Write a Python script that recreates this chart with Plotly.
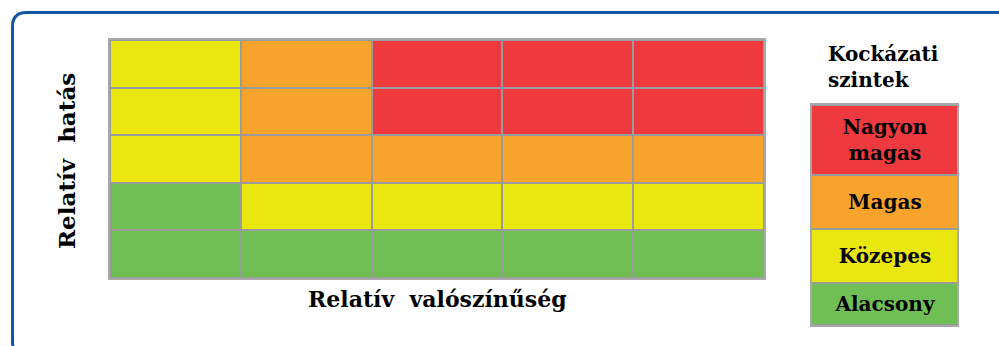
import plotly.graph_objects as go

W, H = 999, 346

# ---- data ----
likelihood = ["1", "2", "3", "4", "5"]          # Relatív valószínűség (columns)
impact = ["1", "2", "3", "4", "5"]              # Relatív hatás (rows, bottom -> top)
# risk level per cell: 0 = Alacsony, 1 = Közepes, 2 = Magas, 3 = Nagyon magas
risk_row1 = [0, 0, 0, 0, 0]
risk_row2 = [0, 1, 1, 1, 1]
risk_row3 = [1, 2, 2, 2, 2]
risk_row4 = [1, 2, 3, 3, 3]
risk_row5 = [1, 2, 3, 3, 3]

level_labels = ["Alacsony", "Közepes", "Magas", "Nagyon<br>magas"]
level_values = [0, 1, 2, 3]
legend_edges = [0, 42, 96, 150, 220]
level_colors = ["#70BF55", "#EAE710", "#F8A32B", "#EE393E"]

legend_title = "Kockázati<br>szintek"
x_title = "Relatív  valószínűség"
y_title = "Relatív  hatás"

FONT = "DejaVu Serif"


def px(x):
    return x / W


def py(y):
    return 1 - y / H


colorscale = []
n = len(level_colors)
for i, c in enumerate(level_colors):
    colorscale.append([i / n, c])
    colorscale.append([(i + 1) / n, c])

z_main = [risk_row1, risk_row2, risk_row3, risk_row4, risk_row5]

fig = go.Figure()
fig.add_trace(go.Heatmap(
    z=z_main, x=likelihood, y=impact,
    colorscale=colorscale, zmin=-0.5, zmax=3.5,
    showscale=False, xgap=2, ygap=2, hoverinfo="skip",
    xaxis="x", yaxis="y",
))

fig.add_trace(go.Heatmap(
    z=[[v] for v in level_values], x=[0], y=legend_edges,
    text=[["<b>" + t + "</b>"] for t in level_labels],
    texttemplate="%{text}",
    textfont=dict(family=FONT, size=20, color="black"),
    colorscale=colorscale, zmin=-0.5, zmax=3.5,
    showscale=False, ygap=2, hoverinfo="skip",
    xaxis="x2", yaxis="y2",
))

axis_common = dict(showticklabels=False, ticks="", showgrid=False, zeroline=False,
                   showline=True, mirror=True, linecolor="#A8A8A8", linewidth=2,
                   fixedrange=True)

# blue rounded frame
x0, y0, x1, y1, r = 12.5, 12.5, 1012, 356, 14
pts = [
    ("M", [(x0, y1 - r)]),
    ("L", [(x0, y0 + r)]),
    ("Q", [(x0, y0), (x0 + r, y0)]),
    ("L", [(x1 - r, y0)]),
    ("Q", [(x1, y0), (x1, y0 + r)]),
    ("L", [(x1, y1 - r)]),
    ("Q", [(x1, y1), (x1 - r, y1)]),
    ("L", [(x0 + r, y1)]),
    ("Q", [(x0, y1), (x0, y1 - r)]),
]
path = ""
for cmd, ps in pts:
    path += cmd + " " + " ".join(f"{px(a):.5f},{py(b):.5f}" for a, b in ps) + " "
path += "Z"

fig.update_layout(
    width=W, height=H,
    margin=dict(l=0, r=0, t=0, b=0),
    paper_bgcolor="white", plot_bgcolor="#9B9B9B",
    showlegend=False,
    xaxis=dict(domain=[px(110), px(764)], **axis_common),
    yaxis=dict(domain=[py(278), py(40)], **axis_common),
    xaxis2=dict(domain=[px(812), px(957)], range=[-0.5, 0.5], anchor="y2", **axis_common),
    yaxis2=dict(domain=[py(325), py(105)], range=[0, 220], anchor="x2", **axis_common),
    shapes=[dict(type="path", xref="paper", yref="paper", path=path,
                 line=dict(color="#1356A6", width=3), fillcolor="rgba(0,0,0,0)", layer="above")],
    annotations=[
        dict(text="<b>" + x_title + "</b>", xref="paper", yref="paper", x=px(437), y=py(299),
             xanchor="center", yanchor="middle", showarrow=False,
             font=dict(family=FONT, size=22, color="black")),
        dict(text="<b>" + y_title + "</b>", xref="paper", yref="paper", x=px(66), y=py(161),
             xanchor="center", yanchor="middle", showarrow=False, textangle=-90,
             font=dict(family=FONT, size=23, color="black")),
        dict(text="<b>" + legend_title + "</b>", xref="paper", yref="paper", x=px(826), y=py(67),
             xanchor="left", yanchor="middle", showarrow=False, align="left",
             font=dict(family=FONT, size=20, color="black")),
    ],
)

fig.write_html("out.html", config={"displayModeBar": False},
               post_script="document.body.style.margin='0';")
